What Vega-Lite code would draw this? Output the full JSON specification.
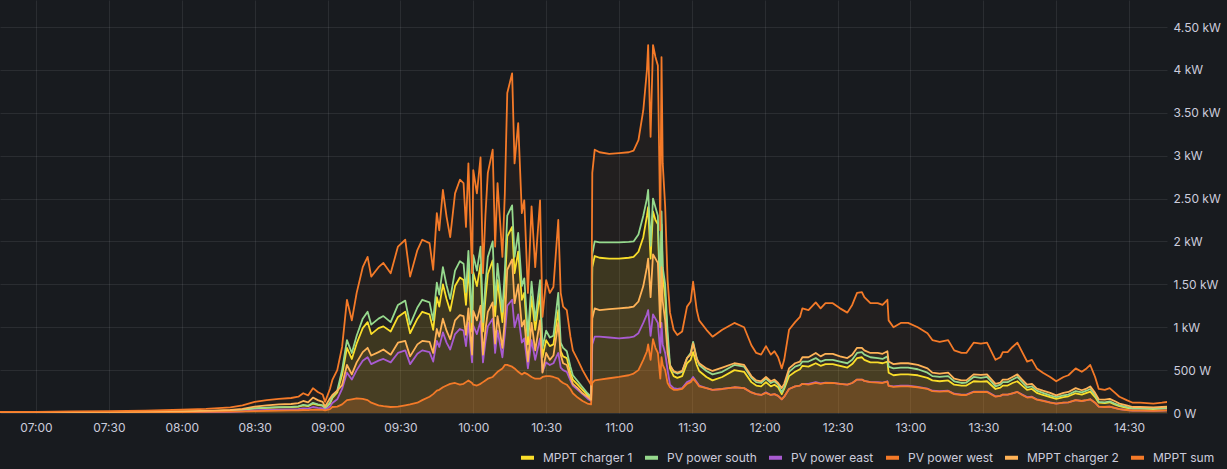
{
  "$schema": "https://vega.github.io/schema/vega-lite/v6.json",
  "description": "Grafana-style PV power time series, six series with light fills",
  "background": "#181b1f",
  "autosize": {"type": "none"},
  "padding": {"left": 0, "top": 0, "right": 60, "bottom": 56},
  "width": 1167,
  "height": 413,
  "data": {
    "values": [
      {"t": "2024-05-01T06:45:00", "c1": 5, "s": 5, "e": 3, "w": 3, "c2": 8, "m": 12},
      {"t": "2024-05-01T07:00:00", "c1": 6, "s": 6, "e": 3, "w": 4, "c2": 8, "m": 14},
      {"t": "2024-05-01T07:15:00", "c1": 8, "s": 8, "e": 4, "w": 5, "c2": 10, "m": 18},
      {"t": "2024-05-01T07:30:00", "c1": 10, "s": 10, "e": 5, "w": 6, "c2": 12, "m": 22},
      {"t": "2024-05-01T07:45:00", "c1": 14, "s": 13, "e": 6, "w": 8, "c2": 15, "m": 28},
      {"t": "2024-05-01T08:00:00", "c1": 18, "s": 16, "e": 8, "w": 10, "c2": 20, "m": 38},
      {"t": "2024-05-01T08:10:00", "c1": 22, "s": 20, "e": 10, "w": 12, "c2": 25, "m": 48},
      {"t": "2024-05-01T08:20:00", "c1": 30, "s": 28, "e": 14, "w": 15, "c2": 35, "m": 65},
      {"t": "2024-05-01T08:25:00", "c1": 40, "s": 38, "e": 20, "w": 18, "c2": 48, "m": 88},
      {"t": "2024-05-01T08:30:00", "c1": 55, "s": 55, "e": 30, "w": 22, "c2": 75, "m": 130},
      {"t": "2024-05-01T08:35:00", "c1": 60, "s": 62, "e": 35, "w": 25, "c2": 90, "m": 150},
      {"t": "2024-05-01T08:40:00", "c1": 65, "s": 68, "e": 38, "w": 28, "c2": 100, "m": 165},
      {"t": "2024-05-01T08:45:00", "c1": 70, "s": 72, "e": 42, "w": 30, "c2": 105, "m": 175},
      {"t": "2024-05-01T08:48:00", "c1": 75, "s": 78, "e": 45, "w": 32, "c2": 115, "m": 190},
      {"t": "2024-05-01T08:50:00", "c1": 90, "s": 95, "e": 55, "w": 35, "c2": 140, "m": 230},
      {"t": "2024-05-01T08:52:00", "c1": 80, "s": 85, "e": 50, "w": 34, "c2": 125, "m": 205},
      {"t": "2024-05-01T08:54:00", "c1": 110, "s": 118, "e": 70, "w": 40, "c2": 180, "m": 290},
      {"t": "2024-05-01T08:56:00", "c1": 95, "s": 100, "e": 60, "w": 38, "c2": 150, "m": 245},
      {"t": "2024-05-01T08:58:00", "c1": 85, "s": 90, "e": 55, "w": 36, "c2": 130, "m": 215},
      {"t": "2024-05-01T08:59:00", "c1": 55, "s": 55, "e": 35, "w": 30, "c2": 75, "m": 130},
      {"t": "2024-05-01T09:01:00", "c1": 110, "s": 120, "e": 75, "w": 45, "c2": 170, "m": 280},
      {"t": "2024-05-01T09:02:00", "c1": 175, "s": 187, "e": 117, "w": 70, "c2": 210, "m": 385},
      {"t": "2024-05-01T09:04:00", "c1": 240, "s": 260, "e": 160, "w": 75, "c2": 260, "m": 500},
      {"t": "2024-05-01T09:06:00", "c1": 445, "s": 500, "e": 280, "w": 100, "c2": 325, "m": 770},
      {"t": "2024-05-01T09:08:00", "c1": 760, "s": 850, "e": 470, "w": 150, "c2": 560, "m": 1320},
      {"t": "2024-05-01T09:10:00", "c1": 630, "s": 700, "e": 390, "w": 160, "c2": 450, "m": 1080},
      {"t": "2024-05-01T09:12:00", "c1": 810, "s": 900, "e": 500, "w": 170, "c2": 590, "m": 1400},
      {"t": "2024-05-01T09:14:30", "c1": 990, "s": 1100, "e": 610, "w": 165, "c2": 710, "m": 1700},
      {"t": "2024-05-01T09:16:30", "c1": 1060, "s": 1180, "e": 650, "w": 150, "c2": 760, "m": 1820},
      {"t": "2024-05-01T09:18:00", "c1": 920, "s": 1030, "e": 570, "w": 120, "c2": 670, "m": 1590},
      {"t": "2024-05-01T09:21:00", "c1": 990, "s": 1100, "e": 610, "w": 90, "c2": 710, "m": 1700},
      {"t": "2024-05-01T09:23:00", "c1": 1010, "s": 1130, "e": 630, "w": 80, "c2": 740, "m": 1750},
      {"t": "2024-05-01T09:26:00", "c1": 950, "s": 1060, "e": 590, "w": 70, "c2": 680, "m": 1630},
      {"t": "2024-05-01T09:29:00", "c1": 1120, "s": 1260, "e": 700, "w": 75, "c2": 820, "m": 1940},
      {"t": "2024-05-01T09:32:00", "c1": 1180, "s": 1310, "e": 730, "w": 90, "c2": 840, "m": 2020},
      {"t": "2024-05-01T09:34:00", "c1": 930, "s": 1030, "e": 570, "w": 100, "c2": 660, "m": 1590},
      {"t": "2024-05-01T09:37:00", "c1": 1100, "s": 1230, "e": 690, "w": 120, "c2": 800, "m": 1900},
      {"t": "2024-05-01T09:39:00", "c1": 1180, "s": 1320, "e": 730, "w": 150, "c2": 840, "m": 2020},
      {"t": "2024-05-01T09:42:00", "c1": 1150, "s": 1290, "e": 710, "w": 190, "c2": 830, "m": 1980},
      {"t": "2024-05-01T09:43:30", "c1": 970, "s": 1080, "e": 600, "w": 220, "c2": 700, "m": 1670},
      {"t": "2024-05-01T09:45:00", "c1": 1350, "s": 1520, "e": 840, "w": 260, "c2": 980, "m": 2330},
      {"t": "2024-05-01T09:46:00", "c1": 1240, "s": 1380, "e": 770, "w": 270, "c2": 890, "m": 2130},
      {"t": "2024-05-01T09:47:30", "c1": 1500, "s": 1700, "e": 940, "w": 300, "c2": 1100, "m": 2600},
      {"t": "2024-05-01T09:49:00", "c1": 1330, "s": 1490, "e": 820, "w": 320, "c2": 960, "m": 2290},
      {"t": "2024-05-01T09:50:30", "c1": 1190, "s": 1330, "e": 740, "w": 340, "c2": 860, "m": 2050},
      {"t": "2024-05-01T09:52:30", "c1": 1480, "s": 1660, "e": 920, "w": 350, "c2": 1080, "m": 2560},
      {"t": "2024-05-01T09:54:30", "c1": 1580, "s": 1770, "e": 980, "w": 330, "c2": 1140, "m": 2720},
      {"t": "2024-05-01T09:56:00", "c1": 1550, "s": 1740, "e": 960, "w": 340, "c2": 1130, "m": 2680},
      {"t": "2024-05-01T09:57:00", "c1": 1260, "s": 1410, "e": 780, "w": 360, "c2": 910, "m": 2170},
      {"t": "2024-05-01T09:58:00", "c1": 1690, "s": 1890, "e": 1050, "w": 380, "c2": 1220, "m": 2910},
      {"t": "2024-05-01T09:59:30", "c1": 950, "s": 1060, "e": 590, "w": 350, "c2": 680, "m": 1630},
      {"t": "2024-05-01T10:00:00", "c1": 1640, "s": 1840, "e": 1020, "w": 330, "c2": 1190, "m": 2830},
      {"t": "2024-05-01T10:01:30", "c1": 1480, "s": 1660, "e": 920, "w": 320, "c2": 1080, "m": 2560},
      {"t": "2024-05-01T10:03:00", "c1": 1730, "s": 1940, "e": 1070, "w": 340, "c2": 1250, "m": 2980},
      {"t": "2024-05-01T10:04:00", "c1": 950, "s": 1060, "e": 590, "w": 360, "c2": 680, "m": 1630},
      {"t": "2024-05-01T10:05:00", "c1": 1330, "s": 1500, "e": 830, "w": 380, "c2": 970, "m": 2300},
      {"t": "2024-05-01T10:06:00", "c1": 1620, "s": 1820, "e": 1010, "w": 400, "c2": 1180, "m": 2800},
      {"t": "2024-05-01T10:08:00", "c1": 1780, "s": 2000, "e": 1100, "w": 420, "c2": 1290, "m": 3070},
      {"t": "2024-05-01T10:09:00", "c1": 1130, "s": 1260, "e": 700, "w": 450, "c2": 810, "m": 1940},
      {"t": "2024-05-01T10:10:00", "c1": 1550, "s": 1740, "e": 960, "w": 480, "c2": 1130, "m": 2680},
      {"t": "2024-05-01T10:12:00", "c1": 1060, "s": 1180, "e": 650, "w": 520, "c2": 760, "m": 1820},
      {"t": "2024-05-01T10:13:00", "c1": 1480, "s": 1660, "e": 920, "w": 560, "c2": 1080, "m": 2560},
      {"t": "2024-05-01T10:14:00", "c1": 2060, "s": 2300, "e": 1250, "w": 560, "c2": 1670, "m": 3730},
      {"t": "2024-05-01T10:16:00", "c1": 2170, "s": 2420, "e": 1320, "w": 540, "c2": 1790, "m": 3960},
      {"t": "2024-05-01T10:17:00", "c1": 1630, "s": 1820, "e": 1000, "w": 520, "c2": 1280, "m": 2910},
      {"t": "2024-05-01T10:18:30", "c1": 1880, "s": 2100, "e": 1150, "w": 480, "c2": 1500, "m": 3380},
      {"t": "2024-05-01T10:20:00", "c1": 1320, "s": 1480, "e": 820, "w": 450, "c2": 1010, "m": 2330},
      {"t": "2024-05-01T10:21:00", "c1": 1400, "s": 1570, "e": 870, "w": 470, "c2": 1080, "m": 2480},
      {"t": "2024-05-01T10:22:30", "c1": 800, "s": 900, "e": 520, "w": 450, "c2": 600, "m": 1400},
      {"t": "2024-05-01T10:24:00", "c1": 1360, "s": 1530, "e": 850, "w": 420, "c2": 1050, "m": 2410},
      {"t": "2024-05-01T10:25:30", "c1": 970, "s": 1080, "e": 620, "w": 400, "c2": 730, "m": 1700},
      {"t": "2024-05-01T10:27:30", "c1": 1400, "s": 1550, "e": 870, "w": 400, "c2": 1080, "m": 2480},
      {"t": "2024-05-01T10:28:30", "c1": 650, "s": 760, "e": 480, "w": 420, "c2": 470, "m": 1120},
      {"t": "2024-05-01T10:30:00", "c1": 850, "s": 960, "e": 590, "w": 430, "c2": 700, "m": 1550},
      {"t": "2024-05-01T10:31:30", "c1": 780, "s": 880, "e": 560, "w": 430, "c2": 620, "m": 1400},
      {"t": "2024-05-01T10:33:00", "c1": 800, "s": 900, "e": 580, "w": 420, "c2": 670, "m": 1470},
      {"t": "2024-05-01T10:35:00", "c1": 1200, "s": 1400, "e": 700, "w": 400, "c2": 1050, "m": 2250},
      {"t": "2024-05-01T10:36:00", "c1": 720, "s": 820, "e": 530, "w": 370, "c2": 680, "m": 1400},
      {"t": "2024-05-01T10:37:00", "c1": 660, "s": 760, "e": 500, "w": 350, "c2": 580, "m": 1240},
      {"t": "2024-05-01T10:38:30", "c1": 640, "s": 720, "e": 480, "w": 330, "c2": 560, "m": 1200},
      {"t": "2024-05-01T10:40:00", "c1": 470, "s": 540, "e": 380, "w": 280, "c2": 420, "m": 890},
      {"t": "2024-05-01T10:41:00", "c1": 390, "s": 440, "e": 320, "w": 230, "c2": 340, "m": 730},
      {"t": "2024-05-01T10:43:00", "c1": 330, "s": 370, "e": 270, "w": 180, "c2": 290, "m": 620},
      {"t": "2024-05-01T10:45:00", "c1": 270, "s": 300, "e": 220, "w": 140, "c2": 230, "m": 500},
      {"t": "2024-05-01T10:47:00", "c1": 210, "s": 230, "e": 170, "w": 110, "c2": 190, "m": 400},
      {"t": "2024-05-01T10:48:30", "c1": 175, "s": 190, "e": 140, "w": 100, "c2": 155, "m": 330},
      {"t": "2024-05-01T10:49:00", "c1": 1700, "s": 1850, "e": 800, "w": 350, "c2": 1100, "m": 2800},
      {"t": "2024-05-01T10:50:00", "c1": 1830, "s": 2000, "e": 890, "w": 380, "c2": 1220, "m": 3070},
      {"t": "2024-05-01T10:52:00", "c1": 1810, "s": 1990, "e": 890, "w": 390, "c2": 1200, "m": 3040},
      {"t": "2024-05-01T10:56:00", "c1": 1800, "s": 1990, "e": 880, "w": 405, "c2": 1210, "m": 3020},
      {"t": "2024-05-01T11:00:00", "c1": 1800, "s": 1990, "e": 870, "w": 420, "c2": 1220, "m": 3030},
      {"t": "2024-05-01T11:04:00", "c1": 1810, "s": 1995, "e": 880, "w": 440, "c2": 1230, "m": 3040},
      {"t": "2024-05-01T11:06:00", "c1": 1820, "s": 2000, "e": 890, "w": 460, "c2": 1240, "m": 3060},
      {"t": "2024-05-01T11:08:00", "c1": 1880, "s": 2080, "e": 930, "w": 500, "c2": 1300, "m": 3180},
      {"t": "2024-05-01T11:10:00", "c1": 2050, "s": 2300, "e": 1050, "w": 620, "c2": 1480, "m": 3530},
      {"t": "2024-05-01T11:11:30", "c1": 2300, "s": 2500, "e": 1150, "w": 720, "c2": 1700, "m": 4000},
      {"t": "2024-05-01T11:12:00", "c1": 2400, "s": 2600, "e": 1200, "w": 800, "c2": 1800, "m": 4290},
      {"t": "2024-05-01T11:13:00", "c1": 1800, "s": 1950, "e": 900, "w": 620, "c2": 1350, "m": 3220},
      {"t": "2024-05-01T11:14:00", "c1": 2350, "s": 2500, "e": 1150, "w": 860, "c2": 1850, "m": 4290},
      {"t": "2024-05-01T11:15:00", "c1": 2250, "s": 2400, "e": 1100, "w": 760, "c2": 1800, "m": 4150},
      {"t": "2024-05-01T11:16:00", "c1": 2200, "s": 2300, "e": 1050, "w": 700, "c2": 1750, "m": 4050},
      {"t": "2024-05-01T11:17:00", "c1": 1200, "s": 1300, "e": 700, "w": 400, "c2": 1000, "m": 2130},
      {"t": "2024-05-01T11:17:30", "c1": 2200, "s": 2350, "e": 1050, "w": 650, "c2": 1700, "m": 4150},
      {"t": "2024-05-01T11:18:00", "c1": 1600, "s": 1700, "e": 800, "w": 560, "c2": 1300, "m": 2910},
      {"t": "2024-05-01T11:19:00", "c1": 1350, "s": 1500, "e": 700, "w": 500, "c2": 1080, "m": 2410},
      {"t": "2024-05-01T11:20:00", "c1": 850, "s": 950, "e": 500, "w": 350, "c2": 700, "m": 1550},
      {"t": "2024-05-01T11:21:00", "c1": 520, "s": 560, "e": 330, "w": 300, "c2": 550, "m": 1170},
      {"t": "2024-05-01T11:22:30", "c1": 430, "s": 480, "e": 290, "w": 270, "c2": 490, "m": 970},
      {"t": "2024-05-01T11:24:00", "c1": 410, "s": 460, "e": 280, "w": 270, "c2": 470, "m": 910},
      {"t": "2024-05-01T11:26:00", "c1": 430, "s": 480, "e": 290, "w": 280, "c2": 490, "m": 950},
      {"t": "2024-05-01T11:28:00", "c1": 580, "s": 640, "e": 360, "w": 340, "c2": 640, "m": 1240},
      {"t": "2024-05-01T11:29:30", "c1": 620, "s": 700, "e": 380, "w": 360, "c2": 680, "m": 1300},
      {"t": "2024-05-01T11:30:30", "c1": 710, "s": 830, "e": 420, "w": 400, "c2": 810, "m": 1530},
      {"t": "2024-05-01T11:32:00", "c1": 560, "s": 640, "e": 360, "w": 350, "c2": 630, "m": 1200},
      {"t": "2024-05-01T11:33:00", "c1": 490, "s": 560, "e": 320, "w": 310, "c2": 580, "m": 1080},
      {"t": "2024-05-01T11:36:00", "c1": 420, "s": 490, "e": 290, "w": 290, "c2": 520, "m": 970},
      {"t": "2024-05-01T11:38:30", "c1": 380, "s": 450, "e": 270, "w": 270, "c2": 490, "m": 890},
      {"t": "2024-05-01T11:42:30", "c1": 420, "s": 480, "e": 280, "w": 280, "c2": 530, "m": 970},
      {"t": "2024-05-01T11:47:30", "c1": 500, "s": 560, "e": 300, "w": 300, "c2": 580, "m": 1050},
      {"t": "2024-05-01T11:51:30", "c1": 480, "s": 540, "e": 290, "w": 290, "c2": 560, "m": 1000},
      {"t": "2024-05-01T11:54:30", "c1": 360, "s": 410, "e": 240, "w": 240, "c2": 430, "m": 790},
      {"t": "2024-05-01T11:56:30", "c1": 320, "s": 360, "e": 220, "w": 220, "c2": 380, "m": 700},
      {"t": "2024-05-01T11:58:30", "c1": 310, "s": 350, "e": 210, "w": 210, "c2": 370, "m": 680},
      {"t": "2024-05-01T12:00:30", "c1": 360, "s": 400, "e": 240, "w": 235, "c2": 420, "m": 780},
      {"t": "2024-05-01T12:02:30", "c1": 310, "s": 350, "e": 210, "w": 210, "c2": 370, "m": 680},
      {"t": "2024-05-01T12:04:00", "c1": 330, "s": 370, "e": 220, "w": 220, "c2": 390, "m": 720},
      {"t": "2024-05-01T12:05:30", "c1": 300, "s": 330, "e": 200, "w": 200, "c2": 350, "m": 650},
      {"t": "2024-05-01T12:07:00", "c1": 220, "s": 240, "e": 160, "w": 160, "c2": 290, "m": 520},
      {"t": "2024-05-01T12:08:00", "c1": 280, "s": 300, "e": 190, "w": 190, "c2": 340, "m": 620},
      {"t": "2024-05-01T12:10:00", "c1": 430, "s": 480, "e": 280, "w": 280, "c2": 520, "m": 970},
      {"t": "2024-05-01T12:12:30", "c1": 480, "s": 540, "e": 310, "w": 310, "c2": 580, "m": 1060},
      {"t": "2024-05-01T12:14:30", "c1": 510, "s": 560, "e": 320, "w": 320, "c2": 600, "m": 1120},
      {"t": "2024-05-01T12:15:30", "c1": 550, "s": 600, "e": 340, "w": 340, "c2": 650, "m": 1220},
      {"t": "2024-05-01T12:18:00", "c1": 540, "s": 600, "e": 340, "w": 330, "c2": 650, "m": 1200},
      {"t": "2024-05-01T12:21:00", "c1": 580, "s": 640, "e": 360, "w": 350, "c2": 700, "m": 1290},
      {"t": "2024-05-01T12:23:00", "c1": 550, "s": 600, "e": 345, "w": 340, "c2": 660, "m": 1220},
      {"t": "2024-05-01T12:25:00", "c1": 570, "s": 620, "e": 355, "w": 350, "c2": 690, "m": 1280},
      {"t": "2024-05-01T12:28:00", "c1": 570, "s": 620, "e": 350, "w": 350, "c2": 690, "m": 1280},
      {"t": "2024-05-01T12:31:00", "c1": 550, "s": 600, "e": 340, "w": 340, "c2": 660, "m": 1220},
      {"t": "2024-05-01T12:34:00", "c1": 530, "s": 580, "e": 330, "w": 330, "c2": 640, "m": 1170},
      {"t": "2024-05-01T12:36:00", "c1": 570, "s": 620, "e": 350, "w": 350, "c2": 680, "m": 1260},
      {"t": "2024-05-01T12:38:00", "c1": 640, "s": 700, "e": 390, "w": 390, "c2": 760, "m": 1400},
      {"t": "2024-05-01T12:40:00", "c1": 650, "s": 710, "e": 390, "w": 390, "c2": 760, "m": 1410},
      {"t": "2024-05-01T12:41:00", "c1": 620, "s": 680, "e": 375, "w": 375, "c2": 730, "m": 1350},
      {"t": "2024-05-01T12:43:30", "c1": 590, "s": 650, "e": 360, "w": 360, "c2": 700, "m": 1280},
      {"t": "2024-05-01T12:46:30", "c1": 590, "s": 640, "e": 360, "w": 355, "c2": 700, "m": 1280},
      {"t": "2024-05-01T12:48:30", "c1": 580, "s": 630, "e": 355, "w": 350, "c2": 690, "m": 1260},
      {"t": "2024-05-01T12:50:30", "c1": 600, "s": 660, "e": 370, "w": 365, "c2": 720, "m": 1320},
      {"t": "2024-05-01T12:51:00", "c1": 470, "s": 540, "e": 320, "w": 315, "c2": 600, "m": 1080},
      {"t": "2024-05-01T12:53:00", "c1": 440, "s": 520, "e": 310, "w": 305, "c2": 570, "m": 1000},
      {"t": "2024-05-01T12:56:00", "c1": 450, "s": 530, "e": 320, "w": 310, "c2": 580, "m": 1050},
      {"t": "2024-05-01T12:59:00", "c1": 450, "s": 530, "e": 320, "w": 310, "c2": 580, "m": 1050},
      {"t": "2024-05-01T13:03:00", "c1": 440, "s": 510, "e": 305, "w": 300, "c2": 560, "m": 1000},
      {"t": "2024-05-01T13:07:00", "c1": 410, "s": 470, "e": 285, "w": 280, "c2": 520, "m": 930},
      {"t": "2024-05-01T13:09:00", "c1": 380, "s": 430, "e": 260, "w": 255, "c2": 470, "m": 850},
      {"t": "2024-05-01T13:12:00", "c1": 370, "s": 420, "e": 255, "w": 250, "c2": 460, "m": 830},
      {"t": "2024-05-01T13:15:30", "c1": 380, "s": 430, "e": 260, "w": 255, "c2": 470, "m": 850},
      {"t": "2024-05-01T13:18:00", "c1": 330, "s": 370, "e": 225, "w": 220, "c2": 400, "m": 730},
      {"t": "2024-05-01T13:21:00", "c1": 320, "s": 350, "e": 215, "w": 210, "c2": 380, "m": 700},
      {"t": "2024-05-01T13:23:00", "c1": 320, "s": 355, "e": 215, "w": 210, "c2": 380, "m": 700},
      {"t": "2024-05-01T13:26:00", "c1": 370, "s": 420, "e": 250, "w": 245, "c2": 450, "m": 820},
      {"t": "2024-05-01T13:29:00", "c1": 365, "s": 410, "e": 248, "w": 245, "c2": 445, "m": 810},
      {"t": "2024-05-01T13:31:30", "c1": 370, "s": 420, "e": 250, "w": 245, "c2": 450, "m": 820},
      {"t": "2024-05-01T13:35:00", "c1": 280, "s": 310, "e": 195, "w": 190, "c2": 340, "m": 620},
      {"t": "2024-05-01T13:37:00", "c1": 295, "s": 330, "e": 200, "w": 200, "c2": 355, "m": 650},
      {"t": "2024-05-01T13:38:00", "c1": 320, "s": 360, "e": 215, "w": 215, "c2": 390, "m": 710},
      {"t": "2024-05-01T13:40:00", "c1": 320, "s": 360, "e": 215, "w": 215, "c2": 390, "m": 710},
      {"t": "2024-05-01T13:42:00", "c1": 350, "s": 390, "e": 230, "w": 230, "c2": 420, "m": 770},
      {"t": "2024-05-01T13:44:00", "c1": 370, "s": 420, "e": 245, "w": 245, "c2": 450, "m": 820},
      {"t": "2024-05-01T13:46:00", "c1": 320, "s": 360, "e": 215, "w": 210, "c2": 390, "m": 710},
      {"t": "2024-05-01T13:48:00", "c1": 270, "s": 300, "e": 185, "w": 180, "c2": 330, "m": 600},
      {"t": "2024-05-01T13:50:00", "c1": 280, "s": 310, "e": 190, "w": 185, "c2": 340, "m": 620},
      {"t": "2024-05-01T13:52:00", "c1": 235, "s": 260, "e": 160, "w": 155, "c2": 285, "m": 520},
      {"t": "2024-05-01T13:54:30", "c1": 210, "s": 235, "e": 145, "w": 140, "c2": 260, "m": 470},
      {"t": "2024-05-01T13:57:30", "c1": 185, "s": 205, "e": 125, "w": 120, "c2": 235, "m": 420},
      {"t": "2024-05-01T14:00:00", "c1": 165, "s": 185, "e": 110, "w": 110, "c2": 205, "m": 370},
      {"t": "2024-05-01T14:03:00", "c1": 185, "s": 205, "e": 120, "w": 120, "c2": 235, "m": 420},
      {"t": "2024-05-01T14:05:00", "c1": 195, "s": 215, "e": 125, "w": 125, "c2": 245, "m": 440},
      {"t": "2024-05-01T14:08:00", "c1": 230, "s": 255, "e": 150, "w": 150, "c2": 290, "m": 520},
      {"t": "2024-05-01T14:10:30", "c1": 215, "s": 240, "e": 140, "w": 140, "c2": 265, "m": 480},
      {"t": "2024-05-01T14:12:30", "c1": 235, "s": 260, "e": 150, "w": 150, "c2": 285, "m": 520},
      {"t": "2024-05-01T14:14:00", "c1": 250, "s": 280, "e": 160, "w": 160, "c2": 310, "m": 560},
      {"t": "2024-05-01T14:16:00", "c1": 185, "s": 210, "e": 120, "w": 120, "c2": 235, "m": 420},
      {"t": "2024-05-01T14:17:30", "c1": 120, "s": 130, "e": 75, "w": 75, "c2": 160, "m": 280},
      {"t": "2024-05-01T14:20:00", "c1": 115, "s": 125, "e": 70, "w": 70, "c2": 155, "m": 270},
      {"t": "2024-05-01T14:22:00", "c1": 125, "s": 135, "e": 75, "w": 75, "c2": 165, "m": 290},
      {"t": "2024-05-01T14:24:00", "c1": 100, "s": 110, "e": 60, "w": 60, "c2": 140, "m": 240},
      {"t": "2024-05-01T14:26:00", "c1": 80, "s": 90, "e": 45, "w": 45, "c2": 110, "m": 190},
      {"t": "2024-05-01T14:29:00", "c1": 60, "s": 70, "e": 35, "w": 35, "c2": 90, "m": 150},
      {"t": "2024-05-01T14:31:30", "c1": 50, "s": 55, "e": 28, "w": 28, "c2": 70, "m": 120},
      {"t": "2024-05-01T14:34:30", "c1": 50, "s": 55, "e": 28, "w": 28, "c2": 70, "m": 120},
      {"t": "2024-05-01T14:40:00", "c1": 45, "s": 50, "e": 25, "w": 25, "c2": 65, "m": 110},
      {"t": "2024-05-01T14:43:30", "c1": 50, "s": 55, "e": 28, "w": 28, "c2": 70, "m": 120},
      {"t": "2024-05-01T14:46:00", "c1": 55, "s": 60, "e": 30, "w": 30, "c2": 75, "m": 130}
    ]
  },
  "transform": [{"fold": ["c1", "s", "e", "w", "c2", "m"], "as": ["k", "v"]}],
  "encoding": {
    "x": {
      "field": "t",
      "type": "temporal",
      "scale": {
        "domain": [
          {"year": 2024, "month": 5, "date": 1, "hours": 6, "minutes": 45, "seconds": 10},
          {"year": 2024, "month": 5, "date": 1, "hours": 14, "minutes": 45, "seconds": 36}
        ]
      },
      "axis": {
        "title": null,
        "format": "%H:%M",
        "values": [
          {"year": 2024, "month": 5, "date": 1, "hours": 7, "minutes": 0},
          {"year": 2024, "month": 5, "date": 1, "hours": 7, "minutes": 30},
          {"year": 2024, "month": 5, "date": 1, "hours": 8, "minutes": 0},
          {"year": 2024, "month": 5, "date": 1, "hours": 8, "minutes": 30},
          {"year": 2024, "month": 5, "date": 1, "hours": 9, "minutes": 0},
          {"year": 2024, "month": 5, "date": 1, "hours": 9, "minutes": 30},
          {"year": 2024, "month": 5, "date": 1, "hours": 10, "minutes": 0},
          {"year": 2024, "month": 5, "date": 1, "hours": 10, "minutes": 30},
          {"year": 2024, "month": 5, "date": 1, "hours": 11, "minutes": 0},
          {"year": 2024, "month": 5, "date": 1, "hours": 11, "minutes": 30},
          {"year": 2024, "month": 5, "date": 1, "hours": 12, "minutes": 0},
          {"year": 2024, "month": 5, "date": 1, "hours": 12, "minutes": 30},
          {"year": 2024, "month": 5, "date": 1, "hours": 13, "minutes": 0},
          {"year": 2024, "month": 5, "date": 1, "hours": 13, "minutes": 30},
          {"year": 2024, "month": 5, "date": 1, "hours": 14, "minutes": 0},
          {"year": 2024, "month": 5, "date": 1, "hours": 14, "minutes": 30}
        ],
        "domain": false,
        "ticks": false,
        "labelPadding": 9,
        "labelFlush": false,
        "labelColor": "#ccccdc",
        "labelFont": "Inter",
        "labelFontSize": 12,
        "gridColor": "#ccccdc",
        "gridOpacity": 0.1
      }
    },
    "y": {
      "field": "v",
      "type": "quantitative",
      "stack": null,
      "scale": {"domain": [0, 4815], "nice": false},
      "axis": {
        "title": null,
        "orient": "right",
        "values": [0, 500, 1000, 1500, 2000, 2500, 3000, 3500, 4000, 4500],
        "labelExpr": "datum.value == 0 ? '0 W' : datum.value < 1000 ? datum.value + ' W' : (datum.value % 1000 == 0 ? (datum.value / 1000) + ' kW' : format(datum.value / 1000, '.2f') + ' kW')",
        "domain": false,
        "ticks": false,
        "labelAlign": "left",
        "labelPadding": 6,
        "labelColor": "#ccccdc",
        "labelFont": "Inter",
        "labelFontSize": 12,
        "gridColor": "#ccccdc",
        "gridOpacity": 0.1
      }
    }
  },
  "layer": [
    {
      "transform": [{"filter": "datum.k == 'c1'"}],
      "mark": {"type": "area", "clip": true, "color": "#FADE2A", "fillOpacity": 0.13},
      "encoding": {}
    },
    {
      "transform": [{"filter": "datum.k == 'w'"}],
      "mark": {"type": "area", "clip": true, "color": "#F47A28", "fillOpacity": 0.2},
      "encoding": {}
    },
    {
      "transform": [{"filter": "datum.k == 'c2'"}],
      "mark": {"type": "area", "clip": true, "color": "#FFB357", "fillOpacity": 0.06},
      "encoding": {}
    },
    {
      "transform": [{"filter": "datum.k == 'm'"}],
      "mark": {"type": "area", "clip": true, "color": "#F47A28", "fillOpacity": 0.05},
      "encoding": {}
    },
    {
      "mark": {"type": "line", "clip": true, "strokeWidth": 1.8, "strokeJoin": "round"},
      "encoding": {
        "stroke": {
          "field": "k",
          "type": "nominal",
          "scale": {
            "domain": ["c1", "s", "e", "w", "c2", "m"],
            "range": ["#FADE2A", "#96D98D", "#A85BD0", "#F47A28", "#FFB357", "#F47A28"]
          },
          "legend": {
            "orient": "none",
            "legendX": 519,
            "legendY": 449,
            "direction": "horizontal",
            "title": null,
            "padding": 0,
            "symbolType": "stroke",
            "symbolStrokeWidth": 4,
            "symbolSize": 169,
            "labelOffset": 7,
            "columnPadding": 4,
            "labelFont": "Inter",
            "labelFontSize": 12,
            "labelColor": "#ccccdc",
            "labelExpr": "datum.label == 'c1' ? 'MPPT charger 1' : datum.label == 's' ? 'PV power south' : datum.label == 'e' ? 'PV power east' : datum.label == 'w' ? 'PV power west' : datum.label == 'c2' ? 'MPPT charger 2' : 'MPPT sum'"
          }
        }
      }
    }
  ],
  "config": {"view": {"stroke": null}}
}
